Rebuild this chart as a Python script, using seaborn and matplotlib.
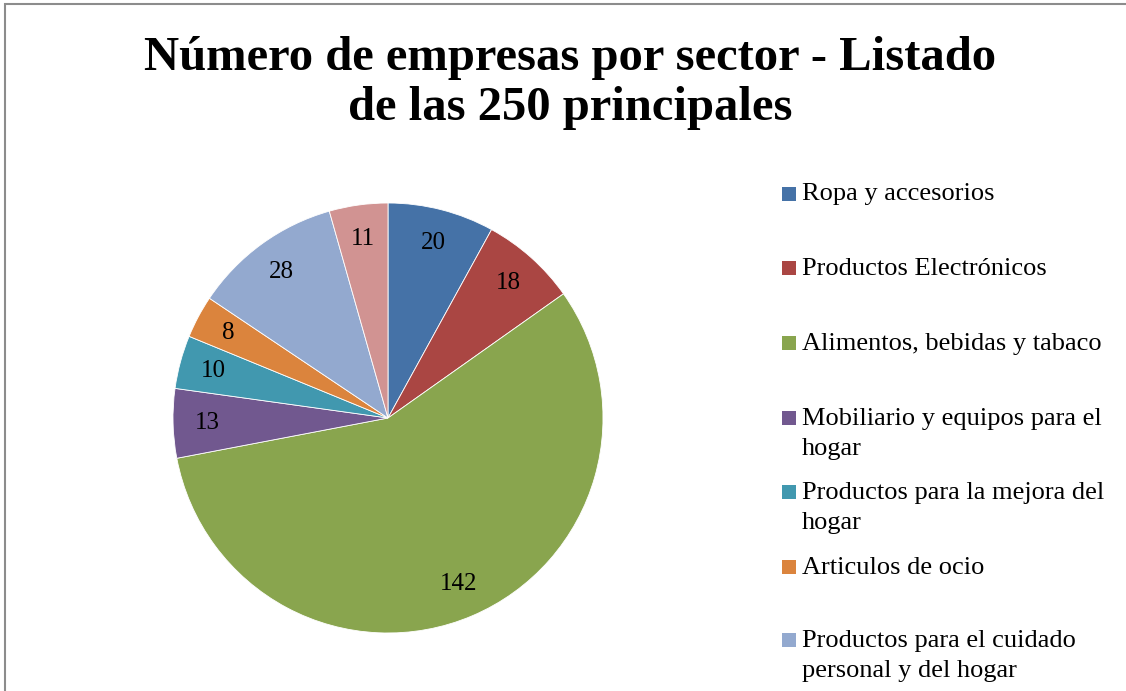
import matplotlib.pyplot as plt
import seaborn as sns
from matplotlib.patches import Rectangle

sns.set_theme(style="white")
plt.rcParams['font.family'] = ['Liberation Serif', 'DejaVu Serif']
plt.rcParams['text.color'] = 'black'

sectores = [
    "Ropa y accesorios",
    "Productos Electrónicos",
    "Alimentos, bebidas y tabaco",
    "Mobiliario y equipos para el\nhogar",
    "Productos para la mejora del\nhogar",
    "Articulos de ocio",
    "Productos para el cuidado\npersonal y del hogar",
    "Otros",
]
empresas = [20, 18, 142, 13, 10, 8, 28, 11]
colores = ["#4572A7", "#AA4643", "#89A54E", "#71588F",
           "#4198AF", "#DB843D", "#93A9CF", "#D19392"]

W, H = 1126, 691
fig = plt.figure(figsize=(W / 100, H / 100), dpi=100)

# marco del gráfico (recortado a la derecha y abajo)
fig.patches.append(Rectangle((5 / W, -0.1), 1.2, 1 - 4 / H + 0.1,
                             transform=fig.transFigure, fill=False,
                             edgecolor="#8c8c8c", linewidth=1.5))

ax = fig.add_axes([173 / W, 1 - 633 / H, 430 / W, 430 / H])
total = sum(empresas)
wedges, texts, autotexts = ax.pie(
    empresas, colors=colores, startangle=90, counterclock=False,
    autopct=lambda p: f"{round(p * total / 100)}", pctdistance=0.84,
    wedgeprops=dict(edgecolor="white", linewidth=0.6),
    textprops=dict(fontsize=18, color="black"),
)
ax.set_xlim(-1, 1)
ax.set_ylim(-1, 1)
ax.set_aspect("equal")

fig.text(570 / W, 1 - 70 / H, "Número de empresas por sector - Listado",
         ha="center", va="baseline", fontsize=35, fontweight="bold")
fig.text(570 / W, 1 - 120 / H, "de las 250 principales",
         ha="center", va="baseline", fontsize=35, fontweight="bold")

# leyenda con ranuras fijas (la octava queda fuera de la imagen)
slot_y = [193.5, 268, 343, 418, 492, 567, 640]
for y, nombre, w in zip(slot_y, sectores, wedges):
    fig.patches.append(Rectangle((782 / W, 1 - (y + 7) / H), 14 / W, 14 / H,
                                 transform=fig.transFigure,
                                 facecolor=w.get_facecolor(), edgecolor="none"))
    fig.text(802 / W, 1 - (y - 10) / H, nombre, ha="left", va="top",
             fontsize=19, linespacing=1.45)

fig.savefig("out.png", dpi=100)
